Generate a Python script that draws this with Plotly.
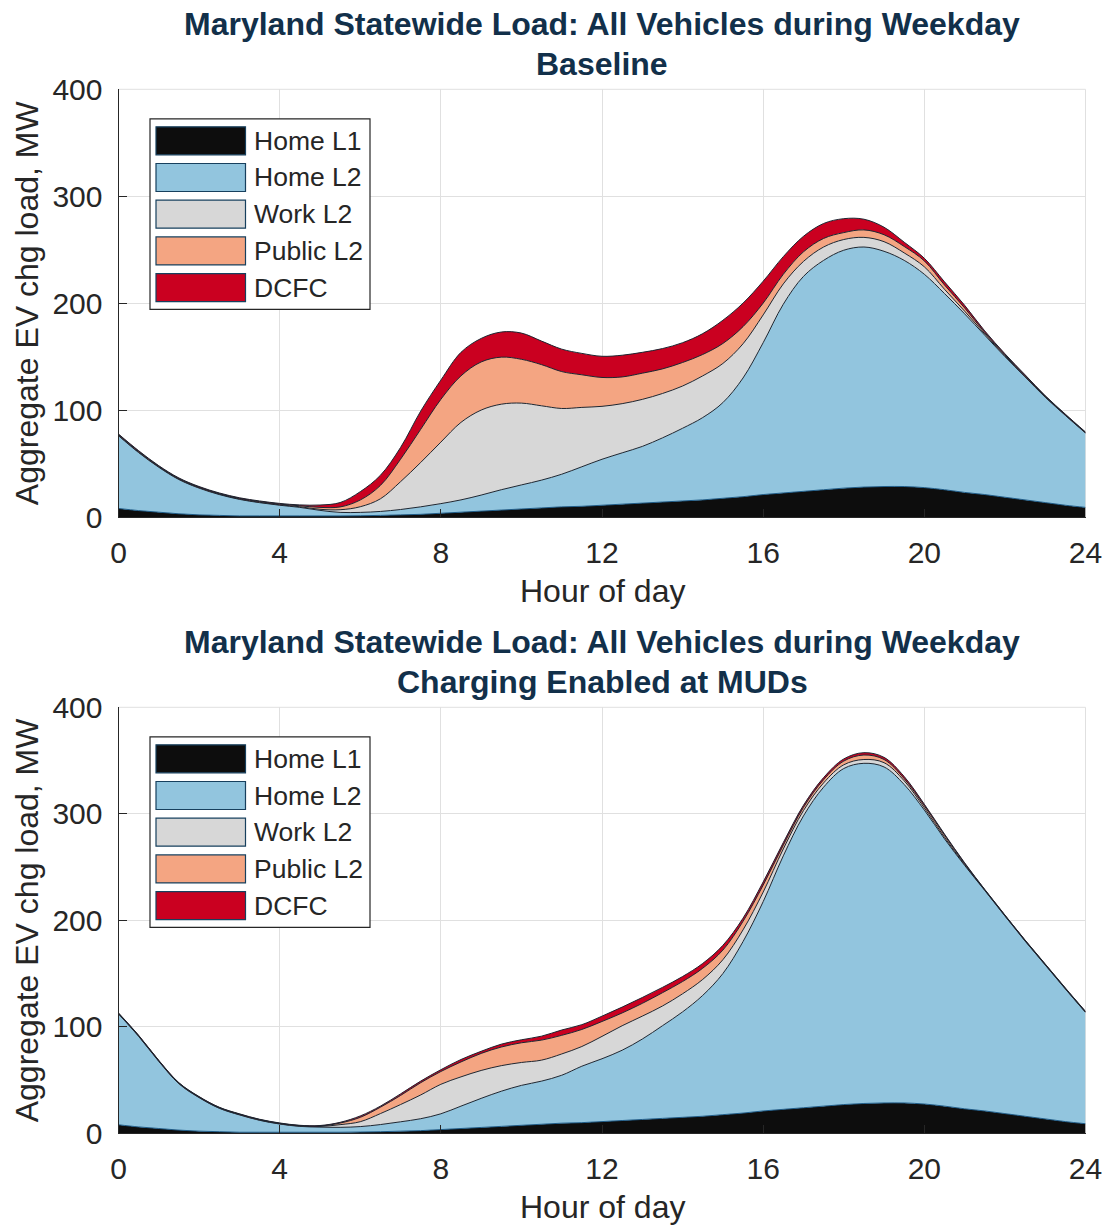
import plotly.graph_objects as go

# ---------------------------------------------------------------------------
# Hour of day (half-hour resolution)
HOURS = [0, 0.5, 1, 1.5, 2, 2.5, 3, 3.5, 4, 4.5, 5, 5.5, 6, 6.5, 7, 7.5, 8, 8.5,
         9, 9.5, 10, 10.5, 11, 11.5, 12, 12.5, 13, 13.5, 14, 14.5, 15, 15.5, 16,
         16.5, 17, 17.5, 18, 18.5, 19, 19.5, 20, 20.5, 21, 21.5, 22, 22.5, 23,
         23.5, 24]

SERIES = ["Home L1", "Home L2", "Work L2", "Public L2", "DCFC"]

# Baseline scenario, MW
BASE_HOME_L1 = [8, 6, 4.5, 3, 2, 1.5, 1, 1, 1, 1, 1, 1, 1.2, 1.5, 2, 2.5, 3.5, 4.5,
                5.5, 6.5, 7.5, 8.5, 9.5, 10, 11, 12, 13, 14, 15, 16, 17.5, 19, 21,
                22.5, 24, 25.5, 27, 28, 28.5, 28.5, 27.5, 25.5, 23, 21, 18.5, 16,
                13.5, 11, 9]
BASE_HOME_L2 = [68, 54.2, 42, 32, 25, 19.5, 15.5, 12.4, 10, 8, 5.2, 3.3, 3.1, 3.7,
                5, 7, 9, 11.5, 15, 19, 22.5, 26, 30.5, 37, 43, 48, 53, 60, 68, 77,
                89.5, 111, 142, 176.5, 201, 214.5, 222.5, 224.5, 220, 211.5, 199.5,
                183.5, 167, 149, 131.5, 115, 98.5, 84, 69.5]
BASE_WORK_L2 = [0.4, 0.4, 0.4, 0.4, 0.4, 0.4, 0.4, 0.4, 0.4, 0.6, 1, 2.5, 5.3, 11.8,
                26, 41.5, 57.5, 72.5, 79.5, 80, 76.5, 69.5, 61.5, 55.5, 49.5, 46,
                44, 41.5, 39.5, 39, 36.6, 32, 26, 19, 14, 12.5, 10, 9, 9, 7, 7, 4,
                2.5, 1.2, 0.8, 0.5, 0.4, 0.3, 0.3]
BASE_PUBLIC_L2 = [0.6, 0.7, 0.5, 0.5, 0.5, 0.5, 0.5, 0.6, 0.6, 0.9, 1.8, 2.6, 6.3,
                  12.5, 21, 31, 40, 43.5, 45, 44, 41, 38.5, 34.5, 30.5, 27, 25,
                  24.5, 23, 22, 20, 18.7, 16, 11, 9, 9, 8, 6.5, 7, 6.5, 6, 5.5, 4,
                  3, 1.3, 0.9, 0.7, 0.5, 0.4, 0.3]
BASE_DCFC = [0.6, 0.7, 0.6, 0.6, 0.6, 0.6, 0.6, 0.6, 0.7, 0.8, 2.2, 4.1, 7.8, 9.5,
             11, 17, 18, 22, 22, 23.5, 24.5, 22, 21, 20, 19.8, 20.3, 19.5, 19,
             18.5, 19.5, 21.7, 22, 20.5, 16.5, 14.5, 14, 13, 10, 7, 4, 2.5, 3, 2.5,
             1.5, 1, 0.8, 0.6, 0.5, 0.4]

# Charging enabled at multi-unit dwellings (MUDs), MW
MUD_HOME_L1 = [8, 6, 4.5, 3, 2, 1.5, 1, 1, 1, 1, 1, 1, 1.2, 1.5, 2, 2.5, 3.5, 4.5,
               5.5, 6.5, 7.5, 8.5, 9.5, 10, 11, 12, 13, 14, 15, 16, 17.5, 19, 21,
               22.5, 24, 25.5, 27, 28, 28.5, 28.5, 27.5, 25.5, 23, 21, 18.5, 16,
               13.5, 11, 9]
MUD_HOME_L2 = [104, 85, 63, 43.5, 31.5, 22, 16.3, 11.2, 7.7, 5.5, 4.8, 4.6, 5.1,
               6.7, 8.8, 11.2, 14.8, 21, 27.3, 33, 37.5, 40.5, 45, 53, 59, 66,
               75.5, 87, 99, 113.5, 132.5, 161, 196.5, 238, 274, 299.5, 315.5,
               319.4, 315.5, 299, 276, 251, 228.5, 207, 185.5, 164.5, 144.5,
               124.5, 104.5]
MUD_WORK_L2 = [0.3, 0.3, 0.3, 0.3, 0.3, 0.3, 0.3, 0.3, 0.3, 0.3, 0.6, 2.5, 4.6,
               10.3, 16.2, 22.3, 27.7, 27.5, 26.2, 24, 21.5, 19.7, 20, 18.5, 21,
               23, 21.5, 18.5, 17, 15, 13, 11, 9, 6.5, 5, 4, 3.5, 3.6, 4, 3.5, 2,
               1.5, 0.8, 0.3, 0.3, 0.3, 0.3, 0.3, 0.3]
MUD_PUBLIC_L2 = [0.4, 0.4, 0.4, 0.4, 0.4, 0.4, 0.4, 0.4, 0.4, 0.4, 0.5, 1.5, 4.1,
                 6, 8.5, 11.5, 12, 14, 16, 17.5, 18.5, 18.8, 17.5, 16, 14, 12, 12,
                 12.5, 11.5, 10.5, 9, 8, 6.5, 3.5, 3, 3, 3.5, 4.2, 3, 2, 2, 2, 1,
                 0.4, 0.4, 0.4, 0.4, 0.4, 0.4]
MUD_DCFC = [0.3, 0.3, 0.3, 0.3, 0.3, 0.3, 0.3, 0.3, 0.3, 0.3, 0.4, 0.7, 1.3, 1,
            1.5, 1.5, 1.7, 2.3, 2, 2.7, 2.8, 3.7, 5, 4.5, 5, 5.5, 5.5, 5, 4.7, 4.5,
            4.5, 3, 3, 2.5, 2, 2, 2, 2.2, 2, 2, 1.5, 1, 0.7, 0.3, 0.3, 0.3, 0.3,
            0.3, 0.3]

X_TICKS = [0, 4, 8, 12, 16, 20, 24]
Y_TICKS = [0, 100, 200, 300, 400]

TITLE_LINE = "Maryland Statewide Load: All Vehicles during Weekday"
SUBTITLES = ["Baseline", "Charging Enabled at MUDs"]

# ---------------------------------------------------------------------------
# Styling
FILLS = ["#0d0d0d", "#92c5de", "#d7d7d7", "#f4a582", "#ca0020"]
EDGES = ["#1f5c88", "#1c2530", "#1c2530", "#1c2530", "#1c2530"]
FONT = "Liberation Sans, Arial, Helvetica, sans-serif"
TEXT = "#262626"
TITLE_COLOR = "#12304a"
GRID = "#e0e0e0"

W, H = 1107, 1226


def px(x):
    return x / W


def py(y):
    return 1 - y / H


PLOT_L, PLOT_R = 118.5, 1085.5
PANELS = [(89.3, 517.0), (707.3, 1133.3)]  # (top, bottom) pixel rows

fig = go.Figure()

datasets = [
    [BASE_HOME_L1, BASE_HOME_L2, BASE_WORK_L2, BASE_PUBLIC_L2, BASE_DCFC],
    [MUD_HOME_L1, MUD_HOME_L2, MUD_WORK_L2, MUD_PUBLIC_L2, MUD_DCFC],
]

for p, series in enumerate(datasets):
    xa = "x" if p == 0 else "x2"
    ya = "y" if p == 0 else "y2"
    for name, vals, fill, edge in zip(SERIES, series, FILLS, EDGES):
        fig.add_trace(go.Scatter(
            x=HOURS, y=vals, name=name, mode="lines",
            stackgroup=f"panel{p}", fillcolor=fill,
            line=dict(color=edge, width=1, shape="spline", smoothing=1.0),
            xaxis=xa, yaxis=ya, showlegend=False, hoverinfo="skip",
        ))

axis_common = dict(
    showgrid=True, gridcolor=GRID, gridwidth=1,
    showline=True, linecolor=TEXT, linewidth=1,
    ticks="inside", ticklen=8, tickcolor=TEXT, tickwidth=1,
    tickfont=dict(family=FONT, size=30, color=TEXT),
    zeroline=False, fixedrange=True, automargin=False,
)

layout_axes = {}
for p, (top, bot) in enumerate(PANELS):
    sfx = "" if p == 0 else "2"
    layout_axes[f"xaxis{sfx}"] = dict(
        axis_common, domain=[px(PLOT_L), px(PLOT_R)], range=[0, 24],
        tickvals=X_TICKS, anchor=f"y{sfx}", ticklabelstandoff=9,
    )
    layout_axes[f"yaxis{sfx}"] = dict(
        axis_common, domain=[py(bot), py(top)], range=[0, 400],
        tickvals=Y_TICKS, anchor=f"x{sfx}", ticklabelstandoff=9,
    )

shapes = []
annotations = []

for p, (top, bot) in enumerate(PANELS):
    # light frame on the open sides of the axes box
    shapes.append(dict(type="line", xref="paper", yref="paper",
                       x0=px(PLOT_L), x1=px(PLOT_R), y0=py(top), y1=py(top),
                       line=dict(color=GRID, width=1), layer="below"))
    shapes.append(dict(type="line", xref="paper", yref="paper",
                       x0=px(PLOT_R), x1=px(PLOT_R), y0=py(bot), y1=py(top),
                       line=dict(color=GRID, width=1), layer="below"))

    # titles
    annotations.append(dict(
        text=f"<b>{TITLE_LINE}</b>", xref="paper", yref="paper",
        x=px(602), y=py(top - 65.5), xanchor="center", yanchor="middle",
        showarrow=False, font=dict(family=FONT, size=32, color=TITLE_COLOR)))
    annotations.append(dict(
        text=f"<b>{SUBTITLES[p]}</b>", xref="paper", yref="paper",
        x=px(602), y=py(top - 25.5), xanchor="center", yanchor="middle",
        showarrow=False, font=dict(family=FONT, size=32, color=TITLE_COLOR)))

    # axis titles
    annotations.append(dict(
        text="Hour of day", xref="paper", yref="paper",
        x=px(602), y=py(bot + 74), xanchor="center", yanchor="middle",
        showarrow=False, font=dict(family=FONT, size=32, color=TEXT)))
    annotations.append(dict(
        text="Aggregate EV chg load, MW", xref="paper", yref="paper",
        x=px(27), y=py((top + bot) / 2), xanchor="center", yanchor="middle",
        textangle=-90, showarrow=False,
        font=dict(family=FONT, size=32, color=TEXT)))

    # legend box
    box_top = top + 29.5
    box_bot = top + 220
    shapes.append(dict(type="rect", xref="paper", yref="paper",
                       x0=px(150), x1=px(370), y0=py(box_bot), y1=py(box_top),
                       fillcolor="white", line=dict(color=TEXT, width=1.2),
                       layer="above"))
    for i, name in enumerate(SERIES):
        cy = top + 51.5 + i * 36.7
        shapes.append(dict(type="rect", xref="paper", yref="paper",
                           x0=px(156), x1=px(245.5),
                           y0=py(cy + 14), y1=py(cy - 14),
                           fillcolor=FILLS[i],
                           line=dict(color="#17405e", width=1.2),
                           layer="above"))
        annotations.append(dict(
            text=name, xref="paper", yref="paper",
            x=px(252), y=py(cy), xanchor="left", yanchor="middle",
            showarrow=False, font=dict(family=FONT, size=26.5, color=TEXT)))

fig.update_layout(
    width=W, height=H,
    margin=dict(l=0, r=0, t=0, b=0, pad=0, autoexpand=False),
    paper_bgcolor="white", plot_bgcolor="white",
    showlegend=False,
    shapes=shapes, annotations=annotations,
    **layout_axes,
)

fig.write_html("out.html")
